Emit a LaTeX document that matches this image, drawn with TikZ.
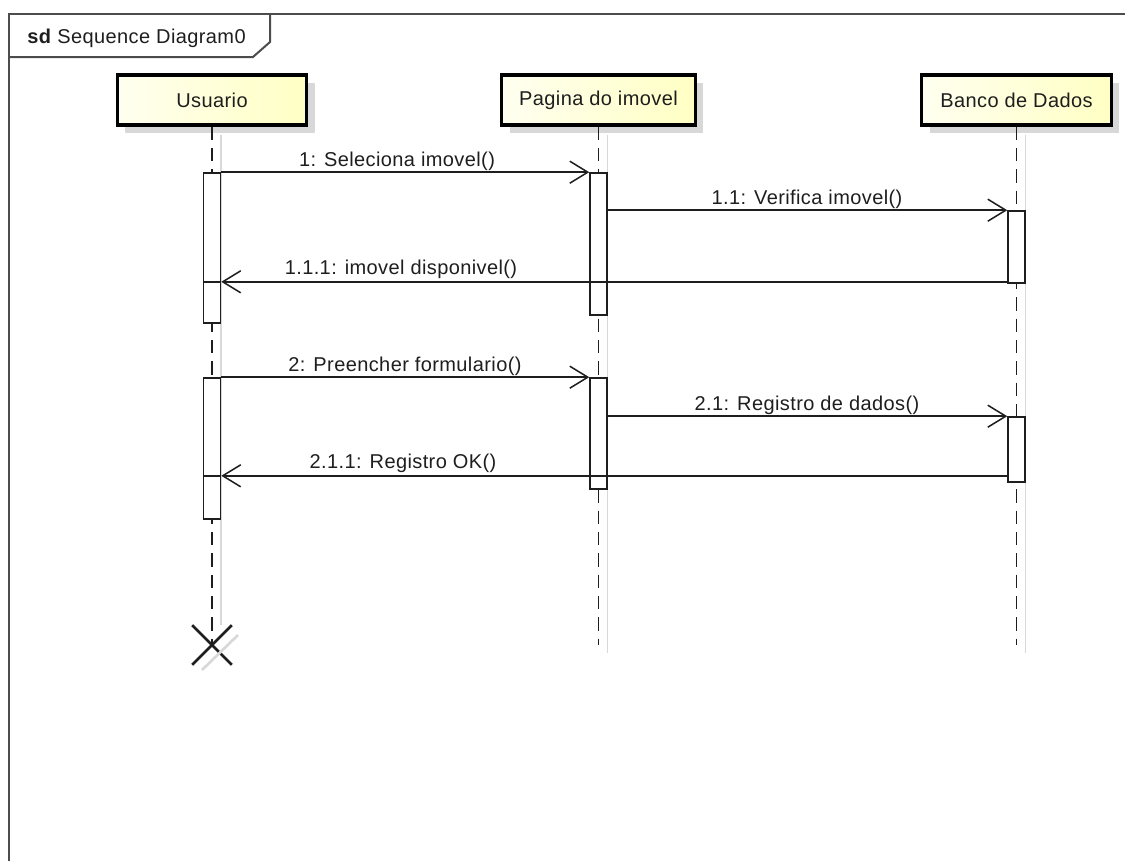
\documentclass[tikz,border=0pt]{standalone}
\usepackage{fontspec}
\setmainfont{Liberation Sans}[LetterSpace=2]
\usetikzlibrary{arrows.meta,shadows,shapes.misc}
\definecolor{headleft}{RGB}{255,255,240}
\definecolor{headright}{RGB}{255,255,196}
\definecolor{shadowgray}{RGB}{216,216,216}
\definecolor{msgshade}{RGB}{218,218,218}
\definecolor{ink}{RGB}{30,30,30}
\tikzset{
  head/.style={draw=black, line width=2.4pt, left color=headleft, right color=headright,
    minimum width=142pt, minimum height=37.5pt, inner xsep=13pt, text=ink,
    general shadow={fill=shadowgray, shadow xshift=6pt, shadow yshift=-6pt}},
  bar/.style={draw=ink, fill=white, line width=1.2pt, minimum width=12.75pt,
    minimum height=#1*0.75pt, inner sep=0pt},
  life/.style={draw=ink, line width=1.1pt, dash pattern=on 10pt off 6pt},
  lifeshadow/.style={draw=shadowgray, line width=1pt},
  msg/.style={draw=ink, line width=1.1pt, -{Straight Barb[length=13.5pt,width=16.5pt]}},
  msgshadow/.style={msg, draw=msgshade, xshift=6pt, yshift=-6pt},
  lbl/.style={anchor=base, text=ink, inner sep=0pt},
  frameline/.style={draw=black!70, line width=1.5pt},
  destroy/.style={cross out, draw=ink, line width=2pt, minimum size=27.75pt, inner sep=0pt}
}
\begin{document}
\begin{tikzpicture}[x=0.75pt, y=-0.75pt, font=\fontsize{15pt}{17pt}\selectfont]
\useasboundingbox (0,0) rectangle (1125,861);
\draw[frameline] (9,861) -- (9,14) -- (1125,14);
\draw[frameline] (9,57) -- (253,57) -- (270,42) -- (270,14);
\node[anchor=base west, inner sep=0pt, text=ink] (SD) at (27,43) {\textbf{sd} Sequence Diagram0};

\node[head] (U) at (212,100) {Usuario};
\node[head] (P) at (598.5,100) {Pagina do imovel};
\node[head] (B) at (1016.5,100) {Banco de Dados};

\node[destroy] (X) at (212,645) {};
\coordinate (PE) at (598.5,645);
\coordinate (BE) at (1016.5,645);

\draw[lifeshadow] ([shift={(9,8)}]U.south) -- ([shift={(9,0)}]X.north);
\draw[lifeshadow] ([shift={(9,8)}]P.south) -- ([shift={(9,8)}]PE);
\draw[lifeshadow] ([shift={(9,8)}]B.south) -- ([shift={(9,8)}]BE);
\draw[shadowgray, line width=2pt] ([shift={(-10,25)}]X.center) -- ([shift={(26,-10)}]X.center);

\draw[life] (U.south) -- (X.center);
\draw[life] (P.south) -- (PE);
\draw[life] (B.south) -- (BE);

\node[bar=150] (U1) at (212,248) {};
\node[bar=142] (P1) at (598.5,244) {};
\node[bar=72] (B1) at (1016.5,247) {};
\node[bar=141] (U2) at (212,448.5) {};
\node[bar=111] (P2) at (598.5,433.5) {};
\node[bar=65] (B2) at (1016.5,449.5) {};

\draw[msgshadow] (U1.north east) -- (P1.north west);
\draw[msg] (U1.north east) -- (P1.north west);
\node[lbl] (L1) at (397,166) {1: Seleciona imovel()};

\draw[msgshadow] (P1.east |- B1.north) -- (B1.north west);
\draw[msg] (P1.east |- B1.north) -- (B1.north west);
\node[lbl] (L11) at (807,204) {1.1: Verifica imovel()};

\draw[msgshadow] ([yshift=1.5pt]B1.south west) -- ([yshift=1.5pt]B1.south west -| U1.east);
\draw[ink, line width=1.1pt] ([yshift=1.5pt]B1.south west -| U1.west) -- ([yshift=1.5pt]B1.south west -| U1.east);
\draw[msg] ([yshift=1.5pt]B1.south west) -- ([yshift=1.5pt]B1.south west -| U1.east);
\node[lbl] (L111) at (401,274) {1.1.1: imovel disponivel()};

\draw[msgshadow] (U2.north east) -- (P2.north west);
\draw[msg] (U2.north east) -- (P2.north west);
\node[lbl] (L2) at (405,371) {2: Preencher formulario()};

\draw[msgshadow] (P2.east |- B2.north) -- (B2.north west);
\draw[msg] (P2.east |- B2.north) -- (B2.north west);
\node[lbl] (L21) at (807,410) {2.1: Registro de dados()};

\draw[msgshadow] ([yshift=5.25pt]B2.south west) -- ([yshift=5.25pt]B2.south west -| U2.east);
\draw[ink, line width=1.1pt] ([yshift=5.25pt]B2.south west -| U2.west) -- ([yshift=5.25pt]B2.south west -| U2.east);
\draw[msg] ([yshift=5.25pt]B2.south west) -- ([yshift=5.25pt]B2.south west -| U2.east);
\node[lbl] (L211) at (403,468) {2.1.1: Registro OK()};
\end{tikzpicture}
\end{document}
